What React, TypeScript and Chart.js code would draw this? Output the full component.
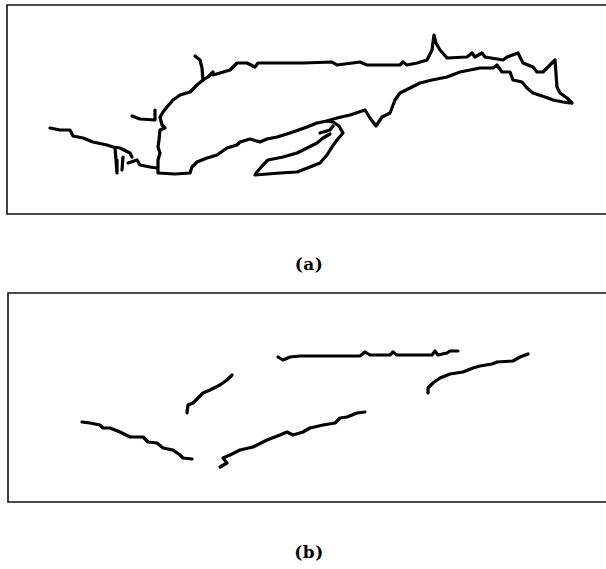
import React, { useEffect, useRef } from "react";
import { Chart, registerables } from "chart.js";

Chart.register(...registerables);

type P = [number, number];

// ---- Panel (a): edge contours (x from left border, y up from bottom border) ----
const aUpperContour: P[] = [
  [188, 158], [193, 154], [195, 146], [196, 134], [201, 137], [206, 142], [206, 139],
  [213, 141], [223, 144], [230, 151], [240, 151], [248, 147], [251, 151], [296, 151],
  [325, 152], [330, 149], [353, 152], [360, 149], [393, 149], [396, 152], [400, 149],
  [410, 151], [420, 154], [425, 164], [427, 179], [429, 171], [433, 164], [440, 156],
  [460, 157], [465, 161], [468, 157], [475, 161], [478, 157], [496, 154], [500, 157],
  [511, 161], [516, 151], [526, 147], [530, 142], [536, 142], [548, 154], [550, 127],
  [553, 121], [560, 116], [565, 111],
];
const aLowerContour: P[] = [
  [196, 134], [190, 129], [183, 122], [173, 119], [166, 114], [160, 107], [156, 102],
  [153, 97], [155, 89], [158, 86], [153, 84], [152, 74], [151, 67], [153, 61], [151, 54],
  [151, 47], [151, 41], [168, 40], [183, 41], [185, 47], [190, 52], [200, 56], [210, 59],
  [220, 66], [230, 69], [233, 72], [243, 75], [253, 72], [260, 75], [270, 77], [283, 81],
  [300, 87], [310, 91], [320, 93], [330, 96], [343, 99], [358, 104], [363, 96], [369, 88],
  [375, 97], [383, 101], [388, 114], [393, 121], [403, 126], [413, 131], [425, 134],
  [440, 137], [453, 142], [473, 146], [486, 146], [490, 149], [495, 142], [503, 142],
  [506, 134], [515, 132], [520, 126], [526, 121], [541, 116], [546, 114], [556, 112],
  [563, 111],
];
const aBranch: P[] = [[125, 98], [133, 95], [148, 94], [148, 104]];
const aLeftLine: P[] = [
  [43, 86], [53, 84], [63, 84], [66, 78], [76, 76], [86, 72], [100, 69], [106, 67],
  [113, 66], [123, 61], [125, 57],
];
const aStub1: P[] = [[108, 66], [109, 54], [110, 41]];
const aStub2: P[] = [[116, 57], [115, 44]];
const aStub3: P[] = [[121, 51], [130, 54], [133, 49], [143, 47], [150, 46]];
const aLoop: P[] = [
  [320, 93], [326, 92], [332, 88], [336, 81], [330, 74], [325, 67], [320, 59], [313, 51],
  [303, 47], [290, 42], [273, 41], [248, 39], [250, 42], [256, 49], [261, 54], [276, 57],
  [290, 61], [300, 66], [310, 71], [316, 76], [323, 80],
];
const aLoopInner: P[] = [[313, 81], [323, 84], [326, 88]];

// ---- Panel (b): edge segments ----
const bLeftLine: P[] = [
  [74, 80], [82, 79], [92, 77], [95, 74], [102, 74], [112, 70], [122, 65], [135, 65],
  [140, 60], [149, 59], [155, 54], [165, 52], [172, 47], [175, 44], [184, 43],
];
const bShort: P[] = [
  [179, 89], [180, 97], [185, 99], [190, 104], [195, 109], [202, 112], [212, 117],
  [219, 122], [224, 127],
];
const bUpper: P[] = [
  [270, 145], [275, 142], [282, 145], [292, 146], [352, 146], [357, 150], [362, 147],
  [382, 147], [385, 150], [389, 147], [424, 147], [427, 151], [430, 147], [439, 149],
  [442, 151], [450, 151],
];
const bLower: P[] = [
  [212, 35], [219, 39], [215, 44], [222, 47], [232, 52], [245, 55], [259, 62], [272, 67],
  [279, 70], [285, 67], [295, 70], [302, 74], [315, 77], [327, 79], [332, 84], [339, 85],
  [349, 89], [357, 90],
];
const bRight: P[] = [
  [420, 109], [420, 114], [425, 119], [432, 124], [442, 128], [455, 130], [465, 134],
  [472, 136], [484, 138], [489, 140], [505, 141], [512, 145], [520, 148],
];

const panelAContours: P[][] = [
  aUpperContour, aLowerContour, aBranch, aLeftLine, aStub1, aStub2, aStub3, aLoop, aLoopInner,
];
const panelBContours: P[][] = [bLeftLine, bShort, bUpper, bLower, bRight];

const framePlugin = {
  id: "frame",
  afterDraw(chart: any) {
    const { ctx, chartArea } = chart;
    const { left, top, right, bottom } = chartArea;
    ctx.save();
    ctx.strokeStyle = "#111";
    ctx.lineWidth = 1.6;
    ctx.beginPath();
    ctx.moveTo(right, top);
    ctx.lineTo(left, top);
    ctx.lineTo(left, bottom);
    ctx.lineTo(right, bottom);
    ctx.stroke();
    ctx.restore();
  },
};

interface PanelProps {
  contours: P[][];
  xMax: number;
  yMax: number;
  top: number;
  height: number;
  padding: { left: number; top: number; right: number; bottom: number };
}

function Panel({ contours, xMax, yMax, top, height, padding }: PanelProps) {
  const ref = useRef<HTMLCanvasElement | null>(null);
  useEffect(() => {
    if (!ref.current) return;
    const chart = new Chart(ref.current, {
      type: "scatter",
      data: {
        datasets: contours.map((c) => ({
          data: c.map(([x, y]) => ({ x, y })),
          showLine: true,
          borderColor: "#000",
          backgroundColor: "#000",
          borderWidth: 3.2,
          pointRadius: 0,
          tension: 0,
          borderJoinStyle: "round" as const,
          borderCapStyle: "round" as const,
        })),
      },
      options: {
        animation: false,
        responsive: false,
        devicePixelRatio: 1,
        layout: { padding },
        plugins: { legend: { display: false }, tooltip: { enabled: false } },
        scales: {
          x: { type: "linear", min: 0, max: xMax, display: false },
          y: { type: "linear", min: 0, max: yMax, display: false },
        },
      },
      plugins: [framePlugin],
    });
    return () => chart.destroy();
  }, []);
  return (
    <canvas
      ref={ref}
      width={606}
      height={height}
      style={{ position: "absolute", left: 0, top, width: 606, height }}
    />
  );
}

const labelStyle: React.CSSProperties = {
  position: "absolute",
  left: 279,
  width: 60,
  textAlign: "center",
  fontFamily: "'DejaVu Serif', serif",
  fontSize: 17,
  fontWeight: "bold",
  lineHeight: "20px",
  letterSpacing: "0.5px",
  color: "#000",
};

export default function App() {
  return (
    <div
      style={{
        position: "absolute",
        left: 0,
        top: 0,
        width: 606,
        height: 569,
        background: "#fff",
        overflow: "hidden",
      }}
    >
      <Panel
        contours={panelAContours}
        xMax={599}
        yMax={209}
        top={0}
        height={225}
        padding={{ left: 7, top: 5, right: 0, bottom: 11 }}
      />
      <div style={{ ...labelStyle, top: 254 }}>(a)</div>
      <Panel
        contours={panelBContours}
        xMax={598}
        yMax={209}
        top={285}
        height={225}
        padding={{ left: 8, top: 8, right: 0, bottom: 8 }}
      />
      <div style={{ ...labelStyle, top: 542 }}>(b)</div>
    </div>
  );
}
